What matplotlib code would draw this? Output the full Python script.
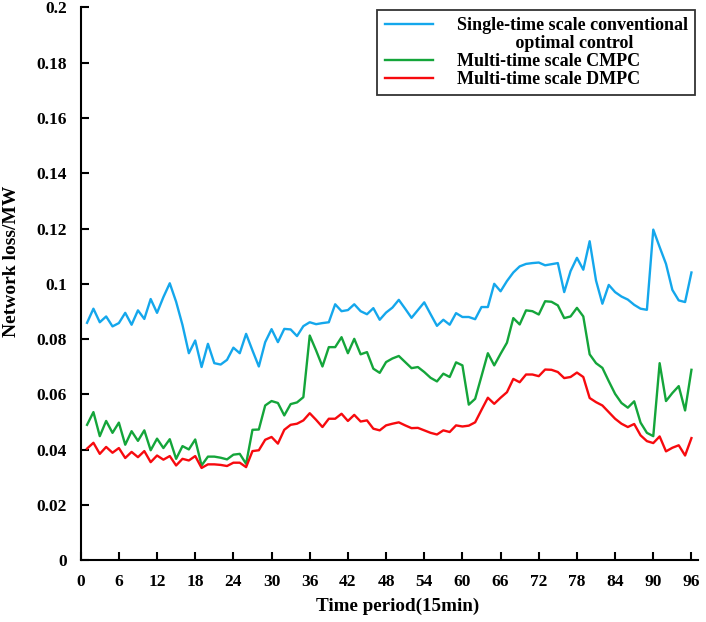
import matplotlib
matplotlib.use('Agg')
import matplotlib.pyplot as plt
from matplotlib.lines import Line2D

# time periods 1..96 (15 min each)
periods = list(range(1, 97))

single_time = [
    0.0859, 0.0910, 0.0861, 0.0882, 0.0846, 0.0858, 0.0895, 0.0852, 0.0904, 0.0873,
    0.0945, 0.0895, 0.0952, 0.1002, 0.0935, 0.0851, 0.0749, 0.0795, 0.0699, 0.0783,
    0.0713, 0.0708, 0.0725, 0.0769, 0.0749, 0.0819, 0.0759, 0.0701, 0.0789, 0.0836,
    0.0789, 0.0837, 0.0835, 0.0811, 0.0847, 0.0861, 0.0854, 0.0858, 0.0861, 0.0926,
    0.0901, 0.0905, 0.0926, 0.0901, 0.0890, 0.0912, 0.0870, 0.0896, 0.0914, 0.0942,
    0.0910, 0.0877, 0.0905, 0.0933, 0.0890, 0.0848, 0.0870, 0.0852, 0.0894, 0.0880,
    0.0880, 0.0872, 0.0916, 0.0916, 0.1000, 0.0973, 0.1010, 0.1041, 0.1063, 0.1072,
    0.1075, 0.1077, 0.1067, 0.1071, 0.1075, 0.0970, 0.1046, 0.1094, 0.1051, 0.1154,
    0.1012, 0.0928, 0.0996, 0.0970, 0.0954, 0.0943, 0.0924, 0.0910, 0.0906, 0.1196,
    0.1133, 0.1072, 0.0978, 0.0940, 0.0934, 0.1041,
]

cmpc = [
    0.0490, 0.0536, 0.0449, 0.0504, 0.0461, 0.0498, 0.0418, 0.0467, 0.0432, 0.0470,
    0.0398, 0.0440, 0.0406, 0.0438, 0.0367, 0.0413, 0.0401, 0.0437, 0.0343, 0.0375,
    0.0375, 0.0371, 0.0365, 0.0382, 0.0385, 0.0349, 0.0472, 0.0473, 0.0560, 0.0576,
    0.0569, 0.0524, 0.0565, 0.0571, 0.0590, 0.0813, 0.0759, 0.0701, 0.0771, 0.0771,
    0.0807, 0.0749, 0.0801, 0.0745, 0.0753, 0.0693, 0.0678, 0.0717, 0.0730, 0.0739,
    0.0717, 0.0695, 0.0699, 0.0681, 0.0660, 0.0647, 0.0675, 0.0663, 0.0716, 0.0705,
    0.0563, 0.0584, 0.0666, 0.0749, 0.0705, 0.0747, 0.0787, 0.0876, 0.0853, 0.0904,
    0.0901, 0.0889, 0.0937, 0.0935, 0.0922, 0.0876, 0.0882, 0.0913, 0.0882, 0.0745,
    0.0713, 0.0696, 0.0648, 0.0602, 0.0569, 0.0552, 0.0575, 0.0498, 0.0461, 0.0449,
    0.0713, 0.0576, 0.0605, 0.0630, 0.0542, 0.0689,
]

dmpc = [
    0.0404, 0.0425, 0.0385, 0.0410, 0.0389, 0.0406, 0.0370, 0.0392, 0.0373, 0.0395,
    0.0355, 0.0379, 0.0364, 0.0377, 0.0343, 0.0367, 0.0361, 0.0377, 0.0334, 0.0347,
    0.0347, 0.0345, 0.0341, 0.0353, 0.0353, 0.0337, 0.0395, 0.0398, 0.0436, 0.0446,
    0.0422, 0.0472, 0.0490, 0.0494, 0.0506, 0.0532, 0.0508, 0.0482, 0.0512, 0.0512,
    0.0530, 0.0504, 0.0526, 0.0502, 0.0506, 0.0476, 0.0470, 0.0488, 0.0494, 0.0499,
    0.0488, 0.0478, 0.0479, 0.0470, 0.0461, 0.0455, 0.0470, 0.0464, 0.0488, 0.0484,
    0.0487, 0.0499, 0.0544, 0.0588, 0.0566, 0.0588, 0.0608, 0.0656, 0.0644, 0.0672,
    0.0672, 0.0666, 0.0690, 0.0689, 0.0681, 0.0659, 0.0663, 0.0679, 0.0663, 0.0587,
    0.0572, 0.0560, 0.0536, 0.0512, 0.0494, 0.0482, 0.0493, 0.0452, 0.0431, 0.0424,
    0.0448, 0.0394, 0.0407, 0.0416, 0.0379, 0.0442,
]

xticks = list(range(0, 97, 6))
yticks = [0, 0.02, 0.04, 0.06, 0.08, 0.1, 0.12, 0.14, 0.16, 0.18, 0.2]
ytick_labels = ['0', '0.02', '0.04', '0.06', '0.08', '0.1', '0.12', '0.14', '0.16', '0.18', '0.2']

BLUE = '#14a7ec'
GREEN = '#14a53a'
RED = '#f70a0e'

plt.rcParams['font.family'] = ['Liberation Serif', 'DejaVu Serif']
plt.rcParams['font.weight'] = 'bold'

fig = plt.figure(figsize=(7.06, 6.22), dpi=100)
ax = fig.add_axes([0.1143, 0.0992, 0.875, 0.889])

ax.plot(periods, single_time, color=BLUE, lw=1.7)
ax.plot(periods, cmpc, color=GREEN, lw=1.7)
ax.plot(periods, dmpc, color=RED, lw=1.7)

ax.set_xlim(0, 97.1)
ax.set_ylim(0, 0.2)
ax.set_xticks(xticks)
ax.set_yticks(yticks)
ax.set_yticklabels(ytick_labels)
ax.tick_params(direction='in', length=6, width=1.5, labelsize=12.5, pad=10)
for s in ['top', 'right']:
    ax.spines[s].set_visible(False)
for s in ['left', 'bottom']:
    ax.spines[s].set_linewidth(1.5)

ax.set_xlabel('Time period(15min)', fontsize=13.8, fontweight='bold')
ax.set_ylabel('Network loss/MW', fontsize=14, fontweight='bold')
ax.xaxis.set_label_coords(0.513, -0.068)
ax.yaxis.set_label_coords(-0.098, 0.54)

handles = [
    Line2D([], [], color=BLUE, lw=1.7),
    Line2D([], [], color='none'),
    Line2D([], [], color=GREEN, lw=1.7),
    Line2D([], [], color=RED, lw=1.7),
]
labels = [
    'Single-time scale conventional',
    '             optimal control',
    'Multi-time scale CMPC',
    'Multi-time scale DMPC',
]
leg = fig.legend(handles, labels, loc='upper right', bbox_to_anchor=(0.9844, 0.984),
                 fontsize=13, frameon=True, fancybox=False, edgecolor='black',
                 handlelength=2.7, handletextpad=1.3, labelspacing=0.05,
                 borderpad=0.4, borderaxespad=0)
leg.get_frame().set_linewidth(1.3)

fig.savefig('out.png', dpi=100)
